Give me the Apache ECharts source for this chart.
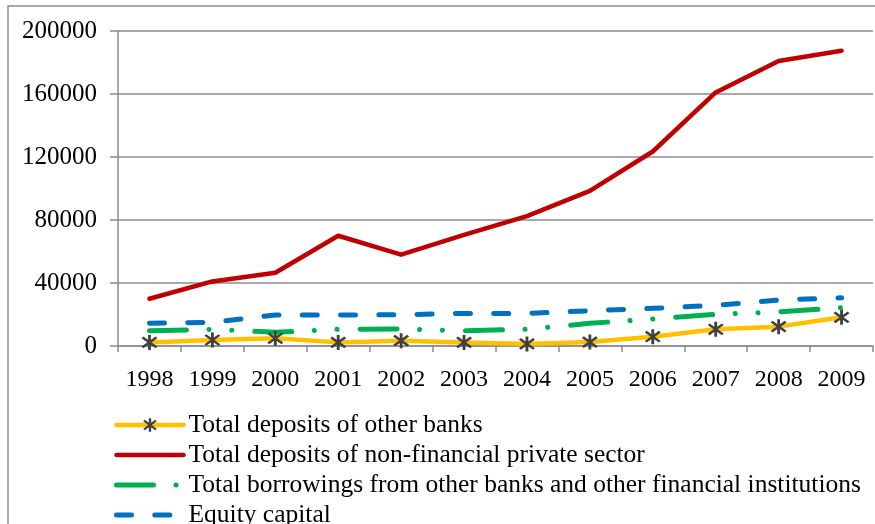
<!DOCTYPE html>
<html>
<head>
<meta charset="utf-8">
<script src="https://cdn.jsdelivr.net/npm/echarts@6/dist/echarts.min.js"></script>
<style>
  html, body { margin: 0; padding: 0; background: #ffffff; }
  #chart { width: 875px; height: 524px; }
</style>
</head>
<body>
<div id="chart"></div>
<script>
// Years on the category axis
const years = ['1998', '1999', '2000', '2001', '2002', '2003', '2004', '2005', '2006', '2007', '2008', '2009'];

// Series values
const otherBanksDeposits = [2300, 3800, 4900, 2300, 3400, 2300, 1300, 2500, 5900, 10600, 12300, 18200];
const privateSectorDeposits = [30000, 41000, 46500, 70000, 58000, 70500, 82500, 98500, 123500, 161000, 181000, 187500];
const borrowings = [9700, 10600, 8700, 10600, 10800, 9700, 10600, 14400, 17100, 20100, 21600, 24300];
const equityCapital = [14400, 15000, 19700, 19700, 19800, 20700, 20700, 22400, 23900, 25800, 29200, 30600];

// Value axis ticks
const yTicks = [0, 40000, 80000, 120000, 160000, 200000];

const seriesNames = [
  'Total deposits of other banks',
  'Total deposits of non-financial private sector',
  'Total borrowings from other banks and other financial institutions',
  'Equity capital'
];

// Six-armed asterisk marker built from three thin bars
function asteriskPath() {
  const L = 10, w = 1.5;
  const parts = [];
  [90, 42, 138].forEach(function (deg) {
    const a = deg * Math.PI / 180;
    const dx = Math.cos(a), dy = Math.sin(a);
    const nx = -dy, ny = dx;
    const pts = [
      [L * dx + w * nx, L * dy + w * ny],
      [-L * dx + w * nx, -L * dy + w * ny],
      [-L * dx - w * nx, -L * dy - w * ny],
      [L * dx - w * nx, L * dy - w * ny]
    ].map(function (p) { return (p[0] + 11).toFixed(2) + ',' + (p[1] + 11).toFixed(2); });
    parts.push('M' + pts[0] + 'L' + pts[1] + 'L' + pts[2] + 'L' + pts[3] + 'Z');
  });
  return 'path://' + parts.join('');
}

const font = 'Liberation Serif';
const gridColor = '#8c8c8c';

const chart = echarts.init(document.getElementById('chart'), null, { renderer: 'canvas' });

chart.setOption({
  backgroundColor: '#ffffff',
  animation: false,
  graphic: [{
    type: 'rect',
    z: -10,
    shape: { x: 8, y: 6, width: 900, height: 600 },
    style: { fill: 'none', stroke: gridColor, lineWidth: 1.5 }
  }],
  grid: { left: 118, top: 31, right: 2, bottom: 178, containLabel: false },
  legend: {
    orient: 'vertical',
    left: 114,
    top: 412,
    height: 140,
    padding: 0,
    itemWidth: 67,
    itemHeight: 17,
    itemGap: 4,
    textStyle: { fontFamily: font, fontSize: 25.5, color: '#000000', lineHeight: 25 },
    data: [
      { name: seriesNames[0], lineStyle: { width: 4.5 } },
      { name: seriesNames[1], itemStyle: { opacity: 0 }, lineStyle: { width: 4.5 } },
      { name: seriesNames[2], itemStyle: { opacity: 0 }, lineStyle: { width: 5 } },
      { name: seriesNames[3], itemStyle: { opacity: 0 }, lineStyle: { width: 5 } }
    ]
  },
  xAxis: {
    type: 'category',
    data: years,
    boundaryGap: true,
    axisLine: { show: true, lineStyle: { color: gridColor, width: 1.5 } },
    axisTick: { show: true, length: 6, alignWithLabel: false, lineStyle: { color: gridColor, width: 1.5 } },
    axisLabel: { fontFamily: font, fontSize: 24, color: '#000000', margin: 22 },
    splitLine: { show: false }
  },
  yAxis: {
    type: 'value',
    min: yTicks[0],
    max: yTicks[yTicks.length - 1],
    interval: yTicks[1] - yTicks[0],
    axisLine: { show: true, lineStyle: { color: gridColor, width: 1.5 } },
    axisTick: { show: true, length: 8, lineStyle: { color: gridColor, width: 1.5 } },
    axisLabel: {
      fontFamily: font, fontSize: 25, color: '#000000', margin: 21,
      formatter: function (v) { return String(v); }
    },
    splitLine: { show: true, lineStyle: { color: gridColor, width: 1.5 } }
  },
  series: [
    {
      name: seriesNames[0],
      type: 'line',
      data: otherBanksDeposits,
      symbol: asteriskPath(),
      symbolSize: [16, 15],
      showSymbol: true,
      itemStyle: { color: '#404040' },
      lineStyle: { color: '#FFC000', width: 4.5, cap: 'round', join: 'round' },
      z: 5
    },
    {
      name: seriesNames[1],
      type: 'line',
      data: privateSectorDeposits,
      symbol: 'none',
      itemStyle: { color: '#C00000' },
      lineStyle: { color: '#C00000', width: 4.5, cap: 'round', join: 'round' },
      z: 2
    },
    {
      name: seriesNames[2],
      type: 'line',
      data: borrowings,
      symbol: 'none',
      itemStyle: { color: '#00B050' },
      lineStyle: { color: '#00B050', width: 5, type: [37, 22.5, 0.1, 22.7, 0.1, 23], cap: 'round', join: 'round' },
      z: 3
    },
    {
      name: seriesNames[3],
      type: 'line',
      data: equityCapital,
      symbol: 'none',
      itemStyle: { color: '#0070C0' },
      lineStyle: { color: '#0070C0', width: 5, type: [15, 23.3], cap: 'round', join: 'round' },
      z: 4
    }
  ]
});
</script>
</body>
</html>
